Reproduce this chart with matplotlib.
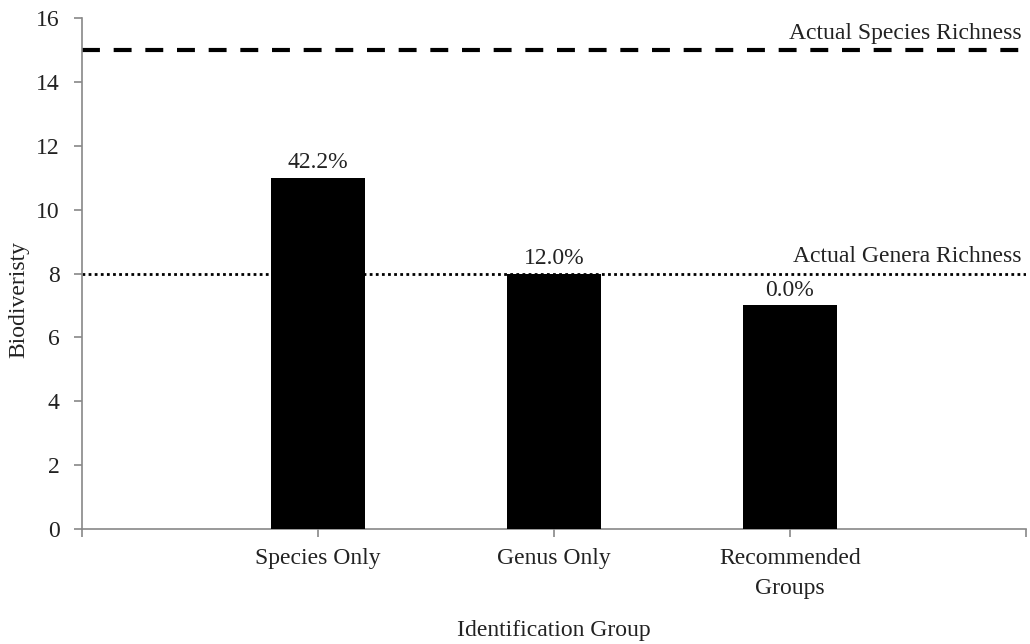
import matplotlib
matplotlib.use('Agg')
import matplotlib.pyplot as plt

# data
groups = ['Species Only', 'Genus Only', 'Recommended\nGroups']
biodiversity = [11, 8, 7]
pct_labels = ['42.2%', '12.0%', '0.0%']
species_richness = 15
genera_richness = 8

plt.rcParams['font.family'] = ['Liberation Serif', 'DejaVu Serif']
plt.rcParams['font.size'] = 17

fig = plt.figure(figsize=(10.30, 6.44), dpi=100)
ax = fig.add_axes([0.0796, 0.1786, 0.9164, 0.7934])

pos = [1, 2, 3]
bars = ax.bar(pos, biodiversity, width=0.395, color='black', zorder=3)
for b, lab in zip(bars, pct_labels):
    ax.text(b.get_x() + b.get_width() / 2, b.get_height() + 0.15, lab,
            ha='center', va='bottom', color='#222222')

ax.axhline(species_richness, color='black', lw=3,
           linestyle=(0, (4.3, 3.3)), zorder=2)
ax.axhline(genera_richness, color='black', lw=2,
           linestyle=(0, (1.0, 1.2)), dash_capstyle='butt', zorder=2)
ax.text(3.98, species_richness + 0.2, 'Actual Species Richness',
        ha='right', va='bottom', color='#222222')
ax.text(3.98, genera_richness + 0.2, 'Actual Genera Richness',
        ha='right', va='bottom', color='#222222')

ax.set_xlim(0, 4)
ax.set_ylim(0, 16)
ax.set_yticks(range(0, 17, 2))
ax.set_xticks([0, 1, 2, 3, 4])
ax.set_xticklabels([''] + groups + [''], linespacing=1.55)

for s in ['top', 'right']:
    ax.spines[s].set_visible(False)
for s in ['left', 'bottom']:
    ax.spines[s].set_color('#888888')
    ax.spines[s].set_linewidth(1.2)
ax.tick_params(axis='both', colors='#888888', labelcolor='#222222',
               length=6, width=1.2)
ax.tick_params(axis='y', pad=10)
ax.tick_params(axis='x', pad=8)

fig.text(0.018, 0.535, 'Biodiveristy', rotation=90, ha='center',
         va='center', color='#222222')
fig.text(0.538, 0.004, 'Identification Group', ha='center', va='bottom',
         color='#222222')

fig.savefig('out.png', dpi=100)
